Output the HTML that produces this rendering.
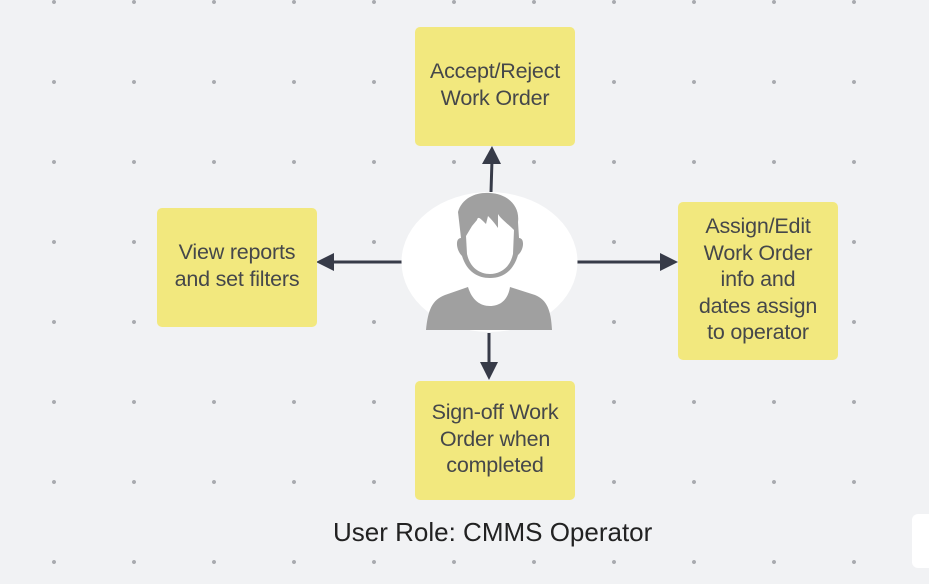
<!DOCTYPE html>
<html><head><style>
body{margin:0;width:929px;height:584px;overflow:hidden;background:#f1f2f4;position:relative;font-family:"Liberation Sans",sans-serif}
.bg{position:absolute;left:0;top:0;width:929px;height:584px;background-image:radial-gradient(circle,#a9abb0 1.8px,transparent 2.2px);background-size:80px 80px;background-position:14px -38px}
.box{position:absolute;background:#f2e87e;border-radius:5px;display:flex;align-items:center;justify-content:center;text-align:center;color:#45474a;font-size:21.5px;line-height:26.6px;letter-spacing:-0.2px;padding-bottom:3px;box-sizing:border-box}
</style></head><body>
<div class="bg"></div>
<svg width="929" height="584" style="position:absolute;left:0;top:0">
<g stroke="#373b48" stroke-width="3" fill="#373b48">
<line x1="491" y1="192" x2="492" y2="160"/><polygon points="482,164 492,146 501,164" stroke="none"/>
<line x1="489" y1="333" x2="489" y2="366"/><polygon points="480,362 489,380 498,362" stroke="none"/>
<line x1="402" y1="262" x2="330" y2="262"/><polygon points="334,253 316,262 334,271" stroke="none"/>
<line x1="577" y1="262" x2="664" y2="262"/><polygon points="660,253 678,262 660,271" stroke="none"/>
</g>
<ellipse cx="489.5" cy="262" rx="88" ry="70" fill="#fff"/>
<g fill="#a0a0a0">
<path d="M426,330 C428,310 432,300 445,295 L468,287 C472,300 480,306 490,306 C500,306 508,300 510,287 L535,295 C547,300 551,310 552,330 Z"/>
<path d="M458,212 C462,198 476,192 490,193 C508,194 520,206 518,222 L519,238 C525,238 524,250 518,255 C513,272 502,278 490,278 C478,278 467,272 462,256 C456,250 455,238 461,238 Z M466,236 L467,254 C470,268 480,274 490,274 C500,274 510,268 513,254 L514,230 C508,224 500,218 498,214 L498,228 C494,222 490,218 488,216 L486,224 C480,218 478,216 477,220 L472,226 Z" fill-rule="evenodd"/>
</g>
</svg>
<div class="box" style="left:415px;top:27px;width:160px;height:119px">Accept/Reject<br>Work Order</div>
<div class="box" style="left:157px;top:208px;width:160px;height:119px">View reports<br>and set filters</div>
<div class="box" style="left:678px;top:202px;width:160px;height:158px">Assign/Edit<br>Work Order<br>info and<br>dates assign<br>to operator</div>
<div class="box" style="left:415px;top:381px;width:160px;height:119px">Sign-off Work<br>Order when<br>completed</div>
<div style="position:absolute;left:333px;top:517px;font-size:26px;color:#222;letter-spacing:0px">User Role: CMMS Operator</div>
<div style="position:absolute;left:912px;top:514px;width:30px;height:54px;background:#fff;border-radius:6px"></div>
</body></html>
